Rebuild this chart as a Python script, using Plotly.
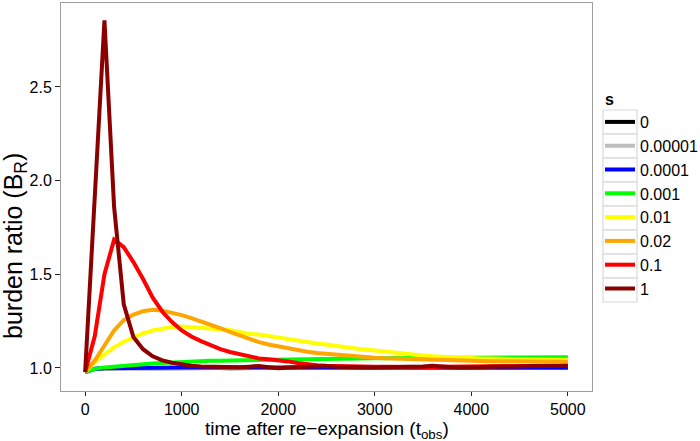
import plotly.graph_objects as go

time_obs = list(range(0, 5001, 100))

s_levels = ["0", "0.00001", "0.0001", "0.001", "0.01", "0.02", "0.1", "1"]
s_colors = ["#000000", "#BEBEBE", "#0000FF", "#00FF00", "#FFFF00", "#FFA500", "#FF0000", "#8B0000"]

br_s0 = [0.978, 0.995, 0.999, 1.000, 1.000, 1.001, 1.000, 1.000, 0.999, 1.000,
         1.000, 1.001, 1.000, 1.000, 1.000, 0.999, 1.000, 1.000, 1.001, 1.000,
         1.000, 1.000, 1.000, 0.999, 1.000, 1.000, 1.001, 1.000, 1.000, 1.000,
         1.000, 1.000, 0.999, 1.000, 1.000, 1.000, 1.001, 1.000, 1.000, 1.000,
         1.000, 1.000, 1.000, 1.000, 0.999, 1.000, 1.000, 1.000, 1.001, 1.000,
         1.000]
br_s00001 = [0.978, 0.995, 1.000, 1.000, 1.001, 1.000, 1.000, 1.001, 1.000, 1.000,
             1.001, 1.000, 1.000, 1.000, 1.001, 1.000, 1.000, 1.000, 1.001, 1.000,
             1.000, 1.001, 1.000, 1.000, 1.000, 1.001, 1.000, 1.000, 1.001, 1.000,
             1.000, 1.000, 1.001, 1.000, 1.000, 1.000, 1.001, 1.000, 1.000, 1.001,
             1.000, 1.000, 1.000, 1.001, 1.000, 1.000, 1.001, 1.000, 1.000, 1.000,
             1.001]
br_s0001 = [0.978, 0.996, 0.999, 1.000, 1.001, 1.001, 1.001, 1.002, 1.001, 1.002,
            1.002, 1.002, 1.002, 1.002, 1.002, 1.003, 1.002, 1.002, 1.003, 1.002,
            1.003, 1.003, 1.002, 1.003, 1.003, 1.003, 1.002, 1.003, 1.003, 1.003,
            1.003, 1.002, 1.003, 1.003, 1.003, 1.003, 1.003, 1.002, 1.003, 1.003,
            1.003, 1.003, 1.003, 1.003, 1.002, 1.003, 1.003, 1.003, 1.003, 1.003,
            1.003]
br_s001 = [0.978, 0.995, 1.003, 1.008, 1.012, 1.016, 1.020, 1.024, 1.027, 1.030,
           1.032, 1.034, 1.036, 1.038, 1.039, 1.040, 1.042, 1.044, 1.045, 1.046,
           1.047, 1.047, 1.048, 1.049, 1.049, 1.050, 1.050, 1.051, 1.051, 1.052,
           1.052, 1.052, 1.053, 1.053, 1.053, 1.054, 1.054, 1.054, 1.055, 1.055,
           1.055, 1.055, 1.056, 1.056, 1.056, 1.056, 1.056, 1.057, 1.057, 1.057,
           1.057]
br_s01 = [0.978, 1.030, 1.072, 1.110, 1.140, 1.162, 1.185, 1.200, 1.212, 1.219,
          1.221, 1.218, 1.213, 1.211, 1.210, 1.203, 1.192, 1.182, 1.178, 1.170,
          1.163, 1.155, 1.143, 1.135, 1.130, 1.125, 1.120, 1.110, 1.104, 1.098,
          1.092, 1.086, 1.080, 1.075, 1.070, 1.066, 1.062, 1.059, 1.056, 1.054,
          1.052, 1.051, 1.050, 1.049, 1.048, 1.047, 1.046, 1.045, 1.044, 1.044,
          1.043]
br_s02 = [0.978, 1.040, 1.120, 1.200, 1.255, 1.285, 1.303, 1.310, 1.306, 1.295,
          1.282, 1.266, 1.248, 1.235, 1.212, 1.192, 1.173, 1.155, 1.138, 1.125,
          1.115, 1.103, 1.093, 1.086, 1.080, 1.075, 1.070, 1.066, 1.062, 1.058,
          1.055, 1.052, 1.050, 1.048, 1.046, 1.045, 1.043, 1.042, 1.040, 1.039,
          1.038, 1.037, 1.036, 1.036, 1.035, 1.035, 1.034, 1.034, 1.033, 1.033,
          1.033]
br_s1 = [0.978, 1.170, 1.500, 1.685, 1.645, 1.565, 1.475, 1.375, 1.300, 1.245,
         1.200, 1.168, 1.143, 1.120, 1.100, 1.085, 1.072, 1.060, 1.051, 1.046,
         1.042, 1.035, 1.026, 1.019, 1.015, 1.012, 1.010, 1.009, 1.008, 1.007,
         1.006, 1.006, 1.005, 1.006, 1.007, 1.006, 1.005, 1.006, 1.007, 1.006,
         1.006, 1.007, 1.008, 1.008, 1.009, 1.010, 1.010, 1.011, 1.012, 1.012,
         1.013]
br_s_one = [0.978, 1.920, 2.855, 1.860, 1.340, 1.165, 1.100, 1.062, 1.040, 1.028,
            1.018, 1.012, 1.008, 1.006, 1.005, 1.004, 1.004, 1.007, 1.011, 1.004,
            0.998, 1.002, 1.004, 1.005, 1.008, 1.011, 1.006, 1.003, 1.004, 1.002,
            1.003, 1.004, 1.002, 1.003, 1.005, 1.008, 1.012, 1.007, 1.004, 1.003,
            1.002, 1.004, 1.006, 1.008, 1.010, 1.009, 1.010, 1.011, 1.010, 1.010,
            1.011]

series = [br_s0, br_s00001, br_s0001, br_s001, br_s01, br_s02, br_s1, br_s_one]

x_ticks = [0, 1000, 2000, 3000, 4000, 5000]
y_ticks = [1.0, 1.5, 2.0, 2.5]
y_tick_labels = ["1.0", "1.5", "2.0", "2.5"]

FONT = "Liberation Sans, Arial, Helvetica, sans-serif"

fig = go.Figure()
for name, col, vals in zip(s_levels, s_colors, series):
    fig.add_trace(go.Scatter(
        x=time_obs, y=vals, mode="lines", name=name,
        line=dict(color=col, width=4),
    ))

L, R, T, B = 61, 592, 3, 391
W, H = R - L, B - T
def px2paper_x(px):
    return (px - L) / W
def px2paper_y(py):
    return (B - py) / H

LEG_X = 600      # legend left (px)
LEG_TOP = 105    # legend top (px)

shapes = []
for i in range(len(s_levels)):
    top = 110 + 24 * i
    shapes.append(dict(
        type="rect", xref="paper", yref="paper",
        x0=px2paper_x(LEG_X + 3), x1=px2paper_x(LEG_X + 37),
        y0=px2paper_y(top), y1=px2paper_y(top + 24),
        line=dict(color="#D9D9D9", width=1.2), fillcolor="rgba(0,0,0,0)",
        layer="below",
    ))

annotations = [
    dict(text="<b>s</b>", xref="paper", yref="paper",
         x=px2paper_x(LEG_X + 3), y=px2paper_y(99), xanchor="left", yanchor="middle",
         showarrow=False, font=dict(family=FONT, size=16, color="black")),
    dict(text="time after re\u2212expansion (t<sub>obs</sub>)", xref="paper", yref="paper",
         x=px2paper_x(327), y=px2paper_y(429.5), xanchor="center", yanchor="middle",
         borderpad=0,
         showarrow=False, font=dict(family=FONT, size=19, color="black")),
    dict(text="burden ratio (B<sub>R</sub>)", xref="paper", yref="paper",
         x=px2paper_x(15), y=px2paper_y(246), xanchor="center", yanchor="middle",
         textangle=-90, showarrow=False, font=dict(family=FONT, size=25, color="black")),
]

fig.update_layout(
    width=700, height=441,
    margin=dict(l=L, r=700 - R, t=T, b=441 - B, autoexpand=False),
    paper_bgcolor="white", plot_bgcolor="white",
    font=dict(family=FONT, size=16, color="black"),
    showlegend=True,
    legend=dict(
        x=px2paper_x(LEG_X), xanchor="left",
        y=px2paper_y(LEG_TOP), yanchor="top",
        font=dict(family=FONT, size=16, color="black"),
        bgcolor="rgba(0,0,0,0)", borderwidth=0,
        tracegroupgap=0,
    ),
    shapes=shapes,
    annotations=annotations,
    xaxis=dict(
        range=[-250, 5250], tickvals=x_ticks,
        ticks="outside", ticklen=4, tickwidth=1.4, tickcolor="#222222",
        showgrid=False, zeroline=False,
        showline=True, mirror=True, linecolor="#9E9E9E", linewidth=1,
        tickfont=dict(family=FONT, size=16, color="black"),
    ),
    yaxis=dict(
        range=[0.877, 2.948], tickvals=y_ticks, ticktext=y_tick_labels,
        ticks="outside", ticklen=5, tickwidth=1.4, tickcolor="#222222",
        showgrid=False, zeroline=False,
        showline=True, mirror=True, linecolor="#9E9E9E", linewidth=1,
        tickfont=dict(family=FONT, size=16, color="black"),
    ),
)

fig.write_html("out.html", config={"displayModeBar": False},
               post_script="document.body.style.margin='0px';")
